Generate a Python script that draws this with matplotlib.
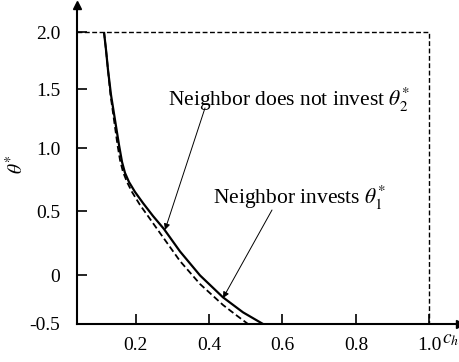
import matplotlib
matplotlib.use("Agg")
import matplotlib.pyplot as plt
import numpy as np

plt.rcParams["font.family"] = ["Liberation Serif", "DejaVu Serif"]
plt.rcParams["mathtext.fontset"] = "stix"

# Threshold theta* as a function of the cost c_h
c_no_invest = [0.1136, 0.1191, 0.1245, 0.1327, 0.1436, 0.1545, 0.1627, 0.1708, 0.1817,
               0.1981, 0.2199, 0.2471, 0.2771, 0.3207, 0.3752, 0.4379, 0.4924, 0.5469]
theta_no_invest = [2.0, 1.842, 1.667, 1.449, 1.237, 1.025, 0.889, 0.802, 0.730,
                   0.651, 0.563, 0.461, 0.359, 0.184, -0.004, -0.228, -0.381, -0.5]

c_invest = [0.1136, 0.1191, 0.1245, 0.1313, 0.1409, 0.1504, 0.1572, 0.1654, 0.1763,
            0.1899, 0.2117, 0.2390, 0.2662, 0.3207, 0.3752, 0.4379, 0.4733, 0.5060]
theta_invest = [2.0, 1.842, 1.667, 1.449, 1.237, 1.025, 0.905, 0.810, 0.730,
                0.651, 0.548, 0.438, 0.328, 0.109, -0.092, -0.306, -0.408, -0.5]

x_ticks = [0.2, 0.4, 0.6, 0.8, 1.0]
x_tick_labels = ["0.2", "0.4", "0.6", "0.8", "1.0"]
y_ticks = [-0.5, 0, 0.5, 1.0, 1.5, 2.0]
y_tick_labels = ["-0.5", "0", "0.5", "1.0", "1.5", "2.0"]

c_max = 1.0
theta_max = 2.0

# Vertical axis drawn with slightly uneven spacing between tick values
scale_values = [-1.0, -0.5, 0.0, 0.5, 1.0, 1.5, 2.0, 2.5]
scale_positions = [-49, 0, 49, 113, 176, 235, 292, 349]


def theta_forward(v):
    return np.interp(v, scale_values, scale_positions)


def theta_inverse(p):
    return np.interp(p, scale_positions, scale_values)


fig = plt.figure(figsize=(4.6, 3.62), dpi=100)
ax = fig.add_axes([77 / 460, 38 / 362, 383 / 460, 319 / 362])
ax.set_yscale("function", functions=(theta_forward, theta_inverse))
ax.set_xlim(0.04, 1.0837)
ax.set_ylim(-0.5, 2.237)

# Feasible region boundary
ax.plot([0.04, c_max, c_max], [theta_max, theta_max, -0.5], color="k",
        lw=1.0, linestyle=(0, (3.5, 1.8)), clip_on=False)

ax.plot(c_no_invest, theta_no_invest, color="k", lw=1.6, solid_capstyle="butt",
        solid_joinstyle="round")
ax.plot(c_invest, theta_invest, color="k", lw=1.3, linestyle=(0, (3.5, 1.8)))

for side in ("top", "right"):
    ax.spines[side].set_visible(False)
for side in ("left", "bottom"):
    ax.spines[side].set_linewidth(1.5)

# Axis arrow heads
ax.plot(1, 0, marker=">", color="k", ms=6, transform=ax.transAxes, clip_on=False)
ax.plot(0, 1, marker="^", color="k", ms=6, transform=ax.transAxes, clip_on=False)

ax.set_xticks(x_ticks)
ax.set_xticklabels(x_tick_labels)
ax.set_yticks(y_ticks)
ax.set_yticklabels(y_tick_labels)
ax.yaxis.set_minor_locator(matplotlib.ticker.NullLocator())
ax.tick_params(direction="in", length=7, width=1.2, labelsize=14)
ax.tick_params(axis="x", pad=9)
ax.tick_params(axis="y", pad=12)

ax.set_ylabel(r"$\theta^{*}$", fontsize=14, labelpad=2)
fig.text(442 / 460, 1 - 340 / 362, r"$c_h$", fontsize=14, va="center", ha="left")

# Curve annotations
ax.text(0.288, 1.407, r"Neighbor does not invest $\theta_2^{*}$", fontsize=15.5,
        va="center", ha="left")
ax.annotate("", xy=(0.2798, 0.352), xytext=(0.3888, 1.339),
            arrowprops=dict(arrowstyle="-|>", lw=0.7, color="k", mutation_scale=9,
                            shrinkA=0, shrinkB=0))
ax.text(0.4106, 0.603, r"Neighbor invests $\theta_1^{*}$", fontsize=15.5,
        va="center", ha="left")
ax.annotate("", xy=(0.4379, -0.235), xytext=(0.5714, 0.508),
            arrowprops=dict(arrowstyle="-|>", lw=0.7, color="k", mutation_scale=9,
                            shrinkA=0, shrinkB=0))

fig.savefig("out.png", dpi=100)
